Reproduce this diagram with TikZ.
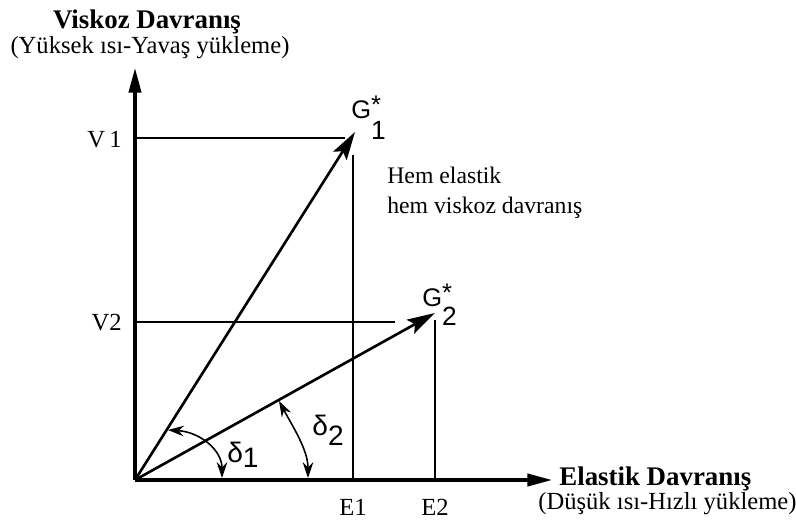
\documentclass[tikz,border=0pt]{standalone}
\usepackage{fontspec}
\setmainfont{Liberation Serif}
\setsansfont{Liberation Sans}
\usetikzlibrary{arrows.meta}

\begin{document}
\begin{tikzpicture}[
  x=0.02cm, y=-0.02cm,
  axis/.style={line width=1.8pt, -{Triangle[length=14pt,width=7pt]}},
  vec/.style={line width=1.5pt, -{Stealth[length=16pt,width=9pt,inset=3pt]}},
  guide/.style={line width=0.8pt},
  ang/.style={line width=0.9pt, {Stealth[length=9pt,width=6pt]}-{Stealth[length=9pt,width=6pt]}},
  lbl/.style={font=\fontsize{14}{17}\selectfont, anchor=base, inner sep=0pt},
  head/.style={font=\bfseries\fontsize{15.3}{18}\selectfont, anchor=base, inner sep=0pt},
  glbl/.style={font=\sffamily\fontsize{14.5}{16}\selectfont, anchor=base west, inner sep=0pt},
  dlbl/.style={font=\sffamily\fontsize{16}{18}\selectfont, anchor=base west, inner sep=0pt}
]
  \useasboundingbox (0,0) rectangle (796,521);

  % axes
  \coordinate (O) at (135,480);
  \coordinate (ytop) at (135,68);
  \coordinate (xend) at (552,480);
  \draw[axis] (O) -- (ytop);
  \draw[axis] (O) -- (xend);

  \node[head] (ytitle) at (147,28) {Viskoz Davranış};
  \node[lbl] (ysub) at (150,53) {(Yüksek ısı-Yavaş yükleme)};
  \node[head, anchor=base west] (xtitle) at (559,485) {Elastik Davranış};
  \node[lbl, anchor=base west] (xsub) at (538,509) {(Düşük ısı-Hızlı yükleme)};

  % guide lines
  \coordinate (v1) at (135,138);
  \coordinate (v1end) at (345,138);
  \coordinate (v2) at (135,322);
  \coordinate (v2end) at (395,322);
  \coordinate (e1top) at (353,155);
  \coordinate (e1) at (353,480);
  \coordinate (e2top) at (435,320);
  \coordinate (e2) at (435,480);
  \draw[guide] (v1) -- (v1end);
  \draw[guide] (v2) -- (v2end);
  \draw[guide] (e1top) -- (e1);
  \draw[guide] (e2top) -- (e2);

  \node[lbl, anchor=base east] (lv1) at (122,147) {V\,1};
  \node[lbl, anchor=base east] (lv2) at (122,330) {V2};
  \node[lbl] (le1) at (353,515) {E1};
  \node[lbl] (le2) at (435,515) {E2};

  % vectors
  \coordinate (g1) at (355,132);
  \coordinate (g2) at (435,313);
  \draw[vec] (O) -- (g1);
  \draw[vec] (O) -- (g2);
  \node[glbl] (lg1) at (351,118)
    {G\rlap{\raisebox{0.3ex}{*}}\raisebox{-12pt}{\fontsize{15}{17}\selectfont 1}};
  \node[glbl] (lg2) at (422,306)
    {G\rlap{\raisebox{0.3ex}{*}}\raisebox{-11pt}{\fontsize{15}{17}\selectfont 2}};

  % angles
  \coordinate (d1a) at (168,430);
  \coordinate (d1b) at (222,478);
  \coordinate (d2a) at (279,401);
  \coordinate (d2b) at (308,478);
  \draw[ang] (d1a) .. controls (200,432) and (222,450) .. (d1b);
  \draw[ang] (d2a) .. controls (293,427) and (308,450) .. (d2b);
  \node[dlbl] (ld1) at (227,462) {δ\raisebox{-3pt}{1}};
  \node[dlbl] (ld2) at (312,435) {δ\raisebox{-6pt}{2}};

  \node[font=\fontsize{13.5}{17}\selectfont, anchor=base west, align=left, inner sep=0pt]
    (both) at (387,213) {Hem elastik\\hem viskoz davranış};
\end{tikzpicture}
\end{document}
